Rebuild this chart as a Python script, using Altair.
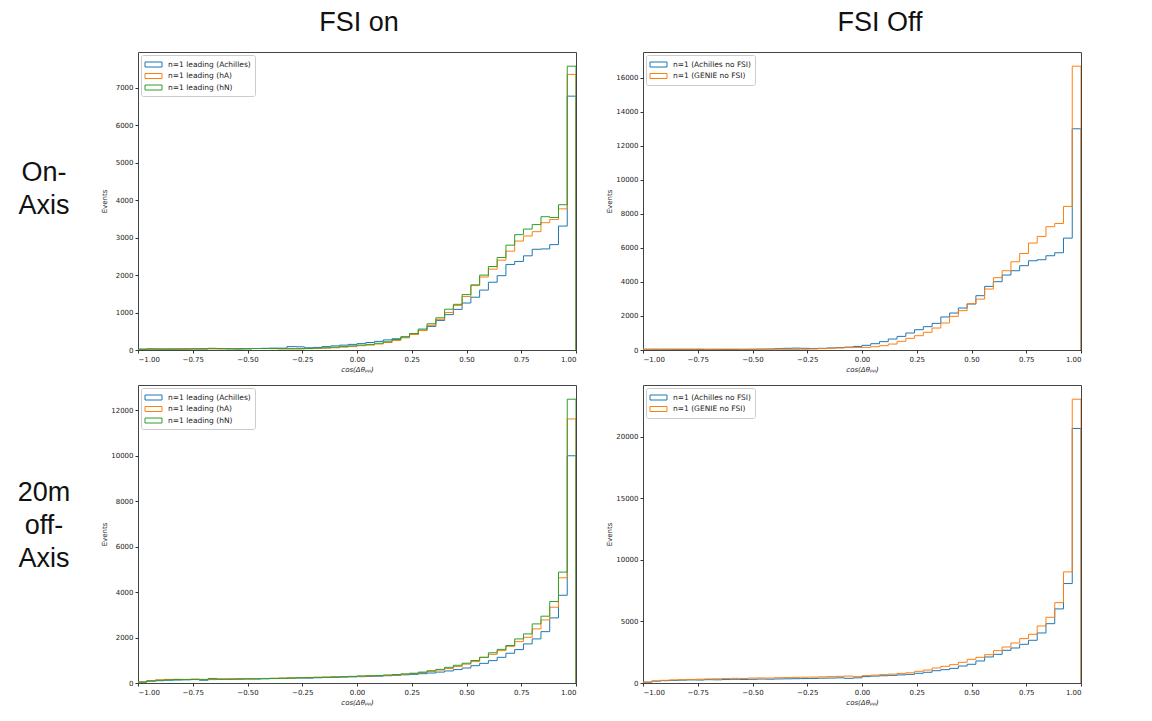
import altair as alt
import numpy as np
import pandas as pd

# ---------------- data (50 bins on [-1, 1]) ----------------
bin_edges = np.linspace(-1.0, 1.0, 51)

# Panel: FSI on, on-axis
on_axis_fsi_names = ["n=1 leading (Achilles)", "n=1 leading (hA)", "n=1 leading (hN)"]
on_axis_fsi_achilles = [20, 30, 25, 25, 20, 25, 30, 25, 40, 35, 30, 25, 30, 40, 45, 50, 50,
                        90, 85, 60, 70, 90, 110, 130, 150,
                        170, 200, 230, 270, 300, 350, 420, 530, 630, 790, 945, 1085, 1255, 1410,
                        1600, 1810, 1985, 2285, 2365, 2515, 2690, 2700, 2815, 3310, 6780]
on_axis_fsi_ha = [20, 25, 20, 25, 25, 25, 30, 30, 30, 30, 35, 35, 40, 40, 40, 35, 30, 30, 30,
                  35, 45, 50, 60, 80, 90,
                  115, 130, 160, 200, 255, 325, 415, 520, 660, 820, 1000, 1190, 1430, 1720,
                  1950, 2160, 2400, 2640, 2910, 3045, 3160, 3400, 3486, 3770, 7360]
on_axis_fsi_hn = [20, 25, 25, 25, 30, 30, 30, 35, 45, 40, 35, 35, 35, 40, 40, 40, 35, 35, 35,
                  40, 50, 60, 75, 90, 110,
                  130, 150, 180, 220, 280, 350, 440, 560, 700, 860, 1090, 1220, 1480, 1740,
                  2000, 2230, 2470, 2800, 3080, 3230, 3350, 3560, 3540, 3880, 7580]
on_axis_fsi_yticks = [0, 1000, 2000, 3000, 4000, 5000, 6000, 7000]

# Panel: FSI off, on-axis
on_axis_nofsi_names = ["n=1 (Achilles no FSI)", "n=1 (GENIE no FSI)"]
on_axis_nofsi_achilles = [10, 15, 15, 20, 20, 20, 25, 20, 25, 30, 30, 35, 40, 50, 60, 80,
                          100, 110, 100, 90, 100, 120, 140, 170, 210,
                          275, 370, 490, 645, 800, 1000, 1190, 1370, 1565, 1940, 2170, 2465,
                          2700, 3190, 3736, 4010, 4400, 4655, 4950, 5240, 5300, 5535, 5710,
                          6570, 12990]
on_axis_nofsi_genie = [60, 60, 60, 60, 60, 60, 60, 55, 55, 55, 55, 50, 50, 50, 45, 45, 40, 40, 45,
                       60, 80, 100, 120, 140, 150,
                       155, 195, 255, 350, 510, 685, 840, 1040, 1290, 1585, 1975, 2310, 2720,
                       2990, 3580, 4245, 4655, 5180, 5670, 6280, 6670, 7240, 7430, 8430, 16665]
on_axis_nofsi_yticks = [0, 2000, 4000, 6000, 8000, 10000, 12000, 14000, 16000]

# Panel: FSI on, 20m off-axis
off_axis_fsi_names = ["n=1 leading (Achilles)", "n=1 leading (hA)", "n=1 leading (hN)"]
off_axis_fsi_achilles = [40, 80, 100, 120, 130, 140, 150, 120, 150, 160, 165, 170, 180, 175, 185,
                         195, 200, 210, 220, 215, 230, 240, 250, 260, 270,
                         280, 290, 300, 320, 340, 360, 380, 410, 440, 480, 530, 590, 660, 760,
                         865, 985, 1130, 1310, 1470, 1720, 1940, 2260, 2865, 3860, 10000]
off_axis_fsi_ha = [50, 110, 140, 160, 165, 160, 170, 150, 170, 175, 180, 190, 190, 195, 200,
                   210, 215, 225, 240, 245, 255, 260, 270, 280, 290,
                   300, 310, 320, 340, 360, 390, 420, 460, 510, 570, 640, 730, 830, 940,
                   1130, 1260, 1425, 1615, 1820, 2010, 2380, 2775, 3335, 4630, 11620]
off_axis_fsi_hn = [40, 90, 120, 140, 150, 150, 160, 160, 200, 170, 170, 175, 180, 185, 195,
                   200, 210, 220, 230, 235, 245, 255, 265, 275, 290,
                   310, 320, 330, 350, 370, 400, 430, 480, 540, 600, 690, 780, 870, 990,
                   1130, 1330, 1480, 1650, 1940, 2160, 2600, 2940, 3585, 4880, 12490]
off_axis_fsi_yticks = [0, 2000, 4000, 6000, 8000, 10000, 12000]

# Panel: FSI off, 20m off-axis
off_axis_nofsi_names = ["n=1 (Achilles no FSI)", "n=1 (GENIE no FSI)"]
off_axis_nofsi_achilles = [60, 150, 190, 210, 230, 250, 240, 270, 260, 280, 300, 290, 300, 320,
                           310, 330, 340, 350, 360, 370, 390, 400, 420, 380, 420,
                           520, 560, 590, 620, 660, 700, 790, 870, 1000, 1085, 1190, 1380, 1520,
                           1790, 2115, 2330, 2655, 2845, 3145, 3470, 4065, 4820, 6020, 8080, 20680]
off_axis_nofsi_genie = [80, 170, 220, 250, 270, 290, 310, 330, 340, 360, 380, 370, 400, 410,
                        400, 430, 440, 460, 470, 480, 500, 520, 540, 560, 520,
                        600, 640, 680, 720, 780, 830, 950, 1055, 1220, 1355, 1490, 1680, 1925,
                        2085, 2300, 2630, 2925, 3250, 3605, 3955, 4635, 5340, 6530, 9025, 23060]
off_axis_nofsi_yticks = [0, 5000, 10000, 15000, 20000]

x_ticks = [-1.0, -0.75, -0.5, -0.25, 0.0, 0.25, 0.5, 0.75, 1.0]
tab_colors = ["#1f77b4", "#ff7f0e", "#2ca02c"]

column_titles = ["FSI on", "FSI Off"]
row_labels = [["On-", "Axis"], ["20m", "off-", "Axis"]]

LABEL_FONT = "Liberation Sans"
TICK_FONT = "DejaVu Sans"
PW, PH = 438, 298


def step_frame(names, series):
    rows = []
    for name, vals in zip(names, series):
        k = 0
        rows.append({"x": bin_edges[0], "y": 0, "series": name, "k": k})
        for i, v in enumerate(vals):
            k += 1
            rows.append({"x": bin_edges[i], "y": v, "series": name, "k": k})
            k += 1
            rows.append({"x": bin_edges[i + 1], "y": v, "series": name, "k": k})
        k += 1
        rows.append({"x": bin_edges[-1], "y": 0, "series": name, "k": k})
    return pd.DataFrame(rows)


def panel(names, series, yticks, col_title=None, col_title_x=None, row_label=None, row_label_y=None):
    df = step_frame(names, series)
    ymax = 1.05 * max(max(s) for s in series)
    lines = alt.Chart(df).mark_line(strokeWidth=1, clip=True).encode(
        x=alt.X("x:Q",
                scale=alt.Scale(domain=[-1, 1], nice=False, zero=False),
                axis=alt.Axis(values=x_ticks, format=".2f", title="cos(Δθₚₚ)")),
        y=alt.Y("y:Q",
                scale=alt.Scale(domain=[0, ymax], nice=False),
                axis=alt.Axis(values=yticks, format="d", title="Events")),
        color=alt.Color("series:N",
                        scale=alt.Scale(domain=names, range=tab_colors[:len(names)]),
                        legend=alt.Legend(
                            orient="top-left", offset=3, title=None, padding=4,
                            symbolType="M-1.7,-0.5H1.7V0.5H-1.7Z", symbolSize=100,
                            symbolStrokeWidth=1, symbolOffset=3, labelOffset=9,
                            labelFont=TICK_FONT, labelFontSize=7.5, labelColor="#222",
                            rowPadding=1.5, fillColor="white", strokeColor="#cccccc",
                            cornerRadius=2, labelLimit=300)),
        order="k:Q",
    )
    layers = [lines]
    one = pd.DataFrame({"a": [0]})
    if col_title is not None:
        layers.append(alt.Chart(one).mark_text(
            text=col_title, font=LABEL_FONT, fontSize=27, color="#111",
            align="center", baseline="middle").encode(
            x=alt.value(col_title_x), y=alt.value(-29)))
    if row_label is not None:
        layers.append(alt.Chart(one).mark_text(
            text=row_label, font=LABEL_FONT, fontSize=27, color="#111", lineHeight=33,
            align="center", baseline="middle").encode(
            x=alt.value(-94), y=alt.value(row_label_y)))
    return alt.layer(*layers).properties(width=PW, height=PH)


p1 = panel(on_axis_fsi_names, [on_axis_fsi_achilles, on_axis_fsi_ha, on_axis_fsi_hn],
           on_axis_fsi_yticks, col_title=column_titles[0], col_title_x=221,
           row_label=row_labels[0], row_label_y=121)
p2 = panel(on_axis_nofsi_names, [on_axis_nofsi_achilles, on_axis_nofsi_genie],
           on_axis_nofsi_yticks, col_title=column_titles[1], col_title_x=237)
p3 = panel(off_axis_fsi_names, [off_axis_fsi_achilles, off_axis_fsi_ha, off_axis_fsi_hn],
           off_axis_fsi_yticks, row_label=row_labels[1], row_label_y=108)
p4 = panel(off_axis_nofsi_names, [off_axis_nofsi_achilles, off_axis_nofsi_genie],
           off_axis_nofsi_yticks)

chart = alt.concat(p1, p2, p3, p4, columns=2, spacing={"row": 11, "column": 27}).resolve_scale(
    color="independent", x="independent", y="independent"
).resolve_legend(color="independent").properties(
    padding={"left": 17, "top": 8, "right": 0, "bottom": 0},
    background="white",
).configure_axis(
    labelFont=TICK_FONT, labelFontSize=7, labelColor="#222",
    titleFont=TICK_FONT, titleFontSize=7, titleFontWeight="normal", titleColor="#222",
    tickSize=3, tickColor="#333", labelPadding=2, domain=False, grid=False,
).configure_axisY(
    minExtent=27, maxExtent=27, titlePadding=4,
).configure_axisX(
    titlePadding=3, titleFontStyle="italic",
).configure_view(
    stroke="#444", strokeWidth=1,
)

chart.save("out.html", embed_options={"renderer": "svg", "actions": False})
